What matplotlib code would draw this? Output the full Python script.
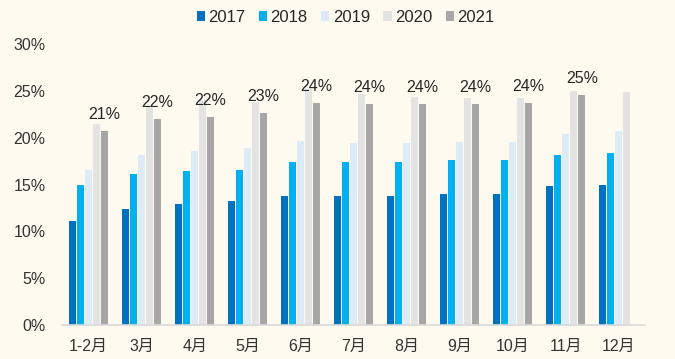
import numpy as np
import matplotlib
matplotlib.use('Agg')
from matplotlib import pyplot as plt

plt.rcParams['font.family'] = ['Liberation Sans', 'Noto Sans CJK SC', 'DejaVu Sans']

months = ['1-2月', '3月', '4月', '5月', '6月', '7月', '8月', '9月', '10月', '11月', '12月']
years = ['2017', '2018', '2019', '2020', '2021']
v2017 = [11.1, 12.4, 12.9, 13.2, 13.8, 13.8, 13.8, 14.0, 14.0, 14.8, 15.0]
v2018 = [14.9, 16.1, 16.4, 16.6, 17.4, 17.4, 17.4, 17.6, 17.6, 18.2, 18.4]
v2019 = [16.5, 18.2, 18.6, 18.9, 19.6, 19.4, 19.4, 19.5, 19.5, 20.4, 20.7]
v2020 = [21.5, 23.4, 24.0, 23.8, 25.2, 24.7, 24.4, 24.2, 24.2, 25.0, 24.9]
v2021 = [20.7, 22.0, 22.2, 22.6, 23.7, 23.6, 23.6, 23.6, 23.7, 24.6]
labels_2021 = ['21%', '22%', '22%', '23%', '24%', '24%', '24%', '24%', '24%', '25%']

series = [v2017, v2018, v2019, v2020, v2021]
colors = ['#0070C0', '#00B0F0', '#DDEBF7', '#E3E3E3', '#A6A6A6']
bg = '#FEFAF0'

fig = plt.figure(figsize=(6.75, 3.59), dpi=100, facecolor=bg)
ax = fig.add_axes([0.092, 0.095, 0.864, 0.782], facecolor=bg)

step = 0.151
w = 0.125
for i, (vals, c, y) in enumerate(zip(series, colors, years)):
    x = np.arange(len(vals)) + (i - 2) * step
    ax.bar(x, np.array(vals) / 100, width=w, color=c, label=y, zorder=2)

# labels sit over the 2021 bars
x21 = np.arange(len(v2021)) + 2 * step
for xi, v, t in zip(x21, v2021, labels_2021):
    ax.annotate(t, (xi, v / 100), xytext=(0, 12), textcoords='offset points',
                ha='center', va='center', fontsize=11.5, color='#262626')

ax.set_xlim(-0.5, 10.5)
ax.set_ylim(0, 0.30)
ax.set_yticks(np.arange(0, 0.31, 0.05))
ax.set_yticklabels([f'{int(round(t*100))}%' for t in np.arange(0, 0.31, 0.05)])
ax.set_xticks(np.arange(len(months)))
ax.set_xticklabels(months)
ax.tick_params(axis='y', length=0, pad=12, labelsize=11.5, labelcolor='#333333')
ax.tick_params(axis='x', length=0, pad=10, labelsize=11.5, labelcolor='#333333')
for s in ['top', 'right', 'left']:
    ax.spines[s].set_visible(False)
ax.spines['bottom'].set_color('#D9D9D9')
ax.spines['bottom'].set_linewidth(1.2)

fig.legend(loc='center', bbox_to_anchor=(0.512, 0.952), ncol=5, frameon=False,
           fontsize=12, handlelength=0.5, handleheight=0.5, handletextpad=0.2,
           columnspacing=0.8, labelcolor='#262626')

plt.savefig('out.png', dpi=100, facecolor=bg)
